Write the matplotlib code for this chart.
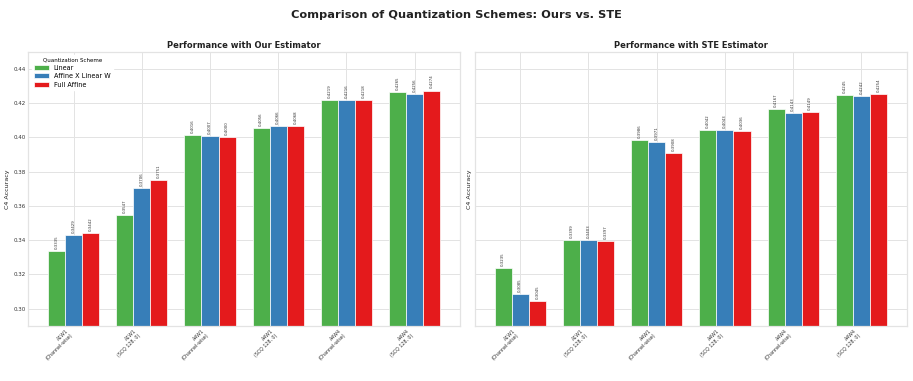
import numpy as np
import matplotlib
matplotlib.use("Agg")
import matplotlib.pyplot as plt

# data
configs = ["A1W1\n(Channel-wise)", "A1W1\n(SCQ 128, 0)",
           "A4W1\n(Channel-wise)", "A4W1\n(SCQ 128, 0)",
           "A4W4\n(Channel-wise)", "A4W4\n(SCQ 128, 0)"]
schemes = ["Linear", "Affine X Linear W", "Full Affine"]

ours_linear = [0.3335, 0.3547, 0.4016, 0.4056, 0.4219, 0.4265]
ours_affx = [0.3429, 0.3706, 0.4007, 0.4066, 0.4216, 0.4256]
ours_full = [0.3442, 0.3751, 0.4000, 0.4068, 0.4218, 0.4274]

ste_linear = [0.3235, 0.3399, 0.3986, 0.4042, 0.4167, 0.4245]
ste_affx = [0.3085, 0.3403, 0.3971, 0.4043, 0.4143, 0.4242]
ste_full = [0.3045, 0.3397, 0.3908, 0.4036, 0.4149, 0.4254]

colors = ["#4daf4a", "#377eb8", "#e41a1c"]
grid_c = "#e3e3e3"

fig, axes = plt.subplots(1, 2, figsize=(9.13, 3.81), dpi=100, sharey=True)
fig.subplots_adjust(left=0.031, right=0.993, top=0.864, bottom=0.145, wspace=0.035)

x = np.arange(len(configs))
w = 0.25

panels = [
    ("Performance with Our Estimator", [ours_linear, ours_affx, ours_full]),
    ("Performance with STE Estimator", [ste_linear, ste_affx, ste_full]),
]

for ax, (title, series) in zip(axes, panels):
    ax.set_axisbelow(True)
    for i, (vals, name, c) in enumerate(zip(series, schemes, colors)):
        bars = ax.bar(x + (i - 1) * w, vals, w, label=name, color=c,
                      edgecolor="white", linewidth=0.5)
        for b, v in zip(bars, vals):
            ax.annotate(f"{v:.4f}", (b.get_x() + b.get_width() / 2, v),
                        xytext=(0, 1.5), textcoords="offset points",
                        ha="center", va="bottom", rotation=90, fontsize=2.8,
                        color="#333333")
    ax.set_title(title, fontsize=6.0, fontweight="bold", pad=3, color="#222222")
    ax.set_ylabel("C4 Accuracy", fontsize=4.6, labelpad=2, color="#222222")
    ax.set_xticks(x)
    ax.set_xticklabels(configs, rotation=45, ha="right", fontsize=3.4,
                       color="#333333")
    ax.tick_params(axis="y", labelsize=4.0, length=0, pad=2, colors="#333333")
    ax.tick_params(axis="x", length=0, pad=2)
    ax.grid(True, color=grid_c, linewidth=0.7)
    for s in ax.spines.values():
        s.set_color(grid_c)
        s.set_linewidth(0.9)

axes[0].set_ylim(0.29, 0.45)
axes[0].set_yticks([0.30, 0.32, 0.34, 0.36, 0.38, 0.40, 0.42, 0.44])
axes[0].yaxis.set_major_formatter(matplotlib.ticker.FormatStrFormatter("%.2f"))
axes[1].tick_params(axis="y", labelleft=False)

leg = axes[0].legend(title="Quantization Scheme", loc="upper left",
                     fontsize=4.7, title_fontsize=4.0, frameon=True,
                     edgecolor="white", framealpha=1, handlelength=2.2,
                     handleheight=0.8, borderaxespad=0.5, labelspacing=0.35)

fig.suptitle("Comparison of Quantization Schemes: Ours vs. STE",
             fontsize=8.2, fontweight="bold", y=0.975, color="#222222")

fig.savefig("out.png", dpi=100, facecolor="white")
